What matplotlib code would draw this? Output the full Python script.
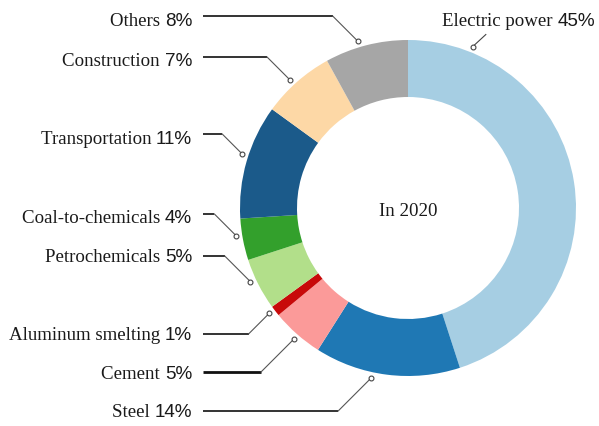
import numpy as np
import matplotlib
matplotlib.use("Agg")
import matplotlib.pyplot as plt

# ---- data ----
categories = ["Electric power", "Steel", "Cement", "Aluminum smelting",
              "Petrochemicals", "Coal-to-chemicals", "Transportation",
              "Construction", "Others"]
shares = [45, 14, 5, 1, 5, 4, 11, 7, 8]
center_title = "In 2020"

colors = ["#a6cee3", "#1f78b4", "#fb9a99", "#c80a0a", "#b2df8a",
          "#33a02c", "#1b5a8a", "#fdd8a6", "#a6a6a6"]

W, H = 599, 427
fig = plt.figure(figsize=(W / 100, H / 100), dpi=100)
ax = fig.add_axes([0, 0, 1, 1])

cx, cy = 408, H - 209
R, ring = 168, 57
wedges, _ = ax.pie(shares, colors=colors, startangle=90, counterclock=False,
                   center=(cx, cy), radius=R,
                   wedgeprops=dict(width=ring, linewidth=0))
ax.set_xlim(0, W)
ax.set_ylim(0, H)
ax.set_aspect("equal")
ax.axis("off")

FS = 13.6
TXT = "#1a1a1a"
ax.text(cx, H - 212, center_title, ha="center", va="center",
        fontsize=FS, family="Liberation Serif", color=TXT)

# layout: anchor fraction within wedge (clockwise) and label y (pixels from top)
anchor_frac = [0.135, 0.6, 0.48, 0.67, 0.61, 0.61, 0.545, 0.45, 0.42]
label_y = [None, 412, 373, 335, 257, 215, 135, 58, 17]
text_y = [22, 413, 375, 336, 258, 219, 140, 62, 22]
anchor_r = 174
label_right = 192
line_start = 203

fig.canvas.draw()
renderer = fig.canvas.get_renderer()
inv = ax.transData.inverted()

def two_font_label(x_right, y, name, pct):
    t2 = ax.text(x_right, y, pct, ha="right", va="center", fontsize=FS,
                 family="Liberation Sans", color=TXT)
    bb = t2.get_window_extent(renderer)
    x0 = inv.transform((bb.x0, bb.y0))[0]
    ax.text(x0, y, name + " ", ha="right", va="center", fontsize=FS,
            family="Liberation Serif", color=TXT)

for i, (w, name, val) in enumerate(zip(wedges, categories, shares)):
    a = np.deg2rad(w.theta2 - anchor_frac[i] * (w.theta2 - w.theta1))
    axp = cx + anchor_r * np.cos(a)
    ayp = cy + anchor_r * np.sin(a)
    pct = f"{val}%"
    if label_y[i] is None:
        ax.plot([axp, axp + 13], [ayp, ayp + 12], color="#444444", lw=0.8)
        two_font_label(595, H - text_y[i], name, pct)
    else:
        ly = H - label_y[i]
        ex = axp - abs(ly - ayp)
        lw_h = 2.0 if name == "Cement" else 1.2
        ax.plot([line_start, ex], [ly, ly], color="#111111", lw=lw_h,
                solid_capstyle="butt")
        ax.plot([ex, axp], [ly, ayp], color="#555555", lw=0.8)
        two_font_label(label_right, H - text_y[i], name, pct)
    ax.plot(axp, ayp, marker="o", ms=3.5, mfc="white", mec="#444444",
            mew=0.8, zorder=5)

fig.savefig("out.png", dpi=100)
